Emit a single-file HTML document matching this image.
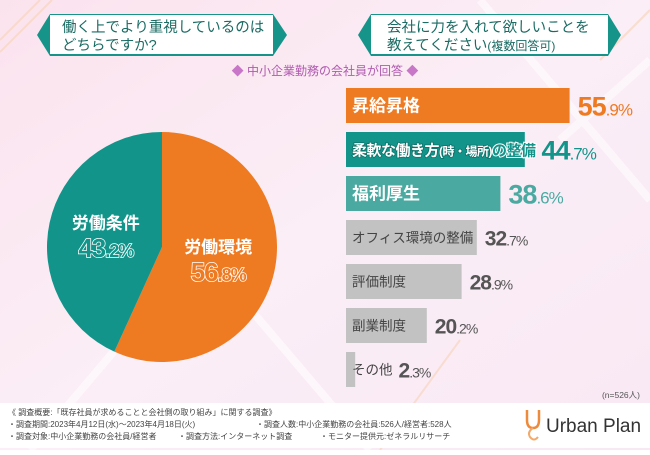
<!DOCTYPE html>
<html><head><meta charset="utf-8"><style>
body{margin:0;width:650px;height:450px;overflow:hidden;font-family:"Liberation Sans","Noto Sans CJK JP",sans-serif}
svg text{font-family:"Liberation Sans","Noto Sans CJK JP",sans-serif}
</style></head><body>
<svg id="c" width="650" height="450" viewBox="0 0 650 450">
<defs>
<linearGradient id="bg" x1="0" y1="0" x2="1" y2="1">
<stop offset="0" stop-color="#fbe3ee"/><stop offset="0.5" stop-color="#fbeef6"/><stop offset="1" stop-color="#f8e8f4"/>
</linearGradient>
</defs>
<rect width="650" height="450" fill="url(#bg)"/>
<g opacity="0.5" stroke="#fff" stroke-width="8" fill="none">
<path d="M30 450 L200 250 L370 450"/><path d="M480 0 L650 200"/><path d="M560 140 L650 60"/>
</g>
<g stroke="#f8d3b8" stroke-width="2" opacity="0.6">
<path d="M0 40 L40 0"/><path d="M0 52 L52 0"/><path d="M610 50 L650 10"/><path d="M600 60 L650 10"/><path d="M380 450 L460 340"/>
</g>
<g>
<polygon points="37,35 50,14 273,14 287,35 273,56 50,56" fill="#16948a"/>
<rect x="50" y="15" width="223" height="39" fill="#fff"/>
<text x="62" y="32" font-size="14.5" fill="#1a6b63">働く上でより重視しているのは</text>
<text x="62" y="50" font-size="14.5" fill="#1a6b63">どちらですか?</text>
</g>
<g>
<polygon points="358,35 371,14 608,14 621,35 608,56 371,56" fill="#16948a"/>
<rect x="371" y="15" width="237" height="39" fill="#fff"/>
<text x="387" y="32" font-size="14.5" fill="#1a6b63">会社に力を入れて欲しいことを</text>
<text x="387" y="50" font-size="14.5" fill="#1a6b63">教えてください<tspan font-size="12">(複数回答可)</tspan></text>
</g>
<text x="325" y="75" font-size="12" fill="#b05ab0" text-anchor="middle"><tspan fill="#c876c8">◆</tspan> 中小企業勤務の会社員が回答 <tspan fill="#c876c8">◆</tspan></text>
<g id="pie"></g>
<g id="bars"></g>
<text x="640" y="398" font-size="8.5" fill="#555" text-anchor="end">(n=526人)</text>
<rect x="0" y="403" width="650" height="45" fill="#fff"/>
<g font-size="8" fill="#444">
<text x="8" y="415">《 調査概要:「既存社員が求めることと会社側の取り組み」に関する調査》</text>
<text x="8" y="427">・調査期間:2023年4月12日(水)〜2023年4月18日(火)</text>
<text x="256" y="427">・調査人数:中小企業勤務の会社員:526人/経営者:528人</text>
<text x="8" y="439">・調査対象:中小企業勤務の会社員/経営者</text>
<text x="178" y="439">・調査方法:インターネット調査</text>
<text x="320" y="439">・モニター提供元:ゼネラルリサーチ</text>
</g>
<g>
<path d="M527 410 L527 420 Q527 428 533 428 Q539 428 539 420 L539 410" stroke="#ee8a3c" stroke-width="2.5" fill="none"/>
<path d="M533 428 Q527 432 530 437 Q534 442 538 437" stroke="#f4a96a" stroke-width="2" fill="none"/>
<text x="546" y="432" font-size="19" fill="#333">Urban Plan</text>
</g>
</svg>
<script>
const pieLabels=["労働環境","労働条件"];
const pieValues=[56.8,43.2];
const barLabels=["昇給昇格","柔軟な働き方(時・場所)の整備","福利厚生","オフィス環境の整備","評価制度","副業制度","その他"];
const barValues=[55.9,44.7,38.6,32.7,28.9,20.2,2.3];
const NS="http://www.w3.org/2000/svg";
function mk(t,a,p){const e=document.createElementNS(NS,t);for(const k in a)e.setAttribute(k,a[k]);p.appendChild(e);return e;}
const pie=document.getElementById('pie');
const cx=162,cy=247,r=115;const pieCol=["#ee7a22","#12948a"];
let tot=pieValues.reduce((a,b)=>a+b,0),ang=0;
pieValues.forEach((v,i)=>{
  const a0=ang,a1=ang+v/tot*2*Math.PI;ang=a1;
  const x0=cx+r*Math.sin(a0),y0=cy-r*Math.cos(a0),x1=cx+r*Math.sin(a1),y1=cy-r*Math.cos(a1);
  const p=mk('path',{d:`M${cx},${cy} L${x0},${y0} A${r},${r} 0 ${a1-a0>Math.PI?1:0} 1 ${x1},${y1} Z`,fill:pieCol[i]},pie);
  
  
  const m=(a0+a1)/2,lr=r*0.5,lx=cx+lr*Math.sin(m),ly=cy-lr*Math.cos(m);
  const t=mk('text',{x:lx,y:ly-6,'font-size':17,'font-weight':'bold',fill:'#fff','text-anchor':'middle'},pie);
  t.textContent=pieLabels[i];
  
  
  const s=String(v).split('.');
  const t2=mk('text',{x:lx,y:ly+22,'font-size':26,'font-weight':'bold',fill:pieCol[i],stroke:'#fff','stroke-width':1.5,'paint-order':'stroke','text-anchor':'middle','letter-spacing':'-1'},pie);
  t2.innerHTML=s[0]+'<tspan font-size="18">.'+s[1]+'%</tspan>';
  
  
});
const bars=document.getElementById('bars');
const x0=346,scale=4.0,top0=88,step=44,bh=35;
barValues.forEach((v,i)=>{
  const y=top0+i*step;
  const fill=i==0?'#ee7a22':i==1?'#12948a':i==2?'#4aaaa2':'#c2c2c2';
  const vc=i==0?'#ee7a22':i==1?'#12948a':i==2?'#4aaaa2':'#555';
  const w=v*scale;
  const b=mk('rect',{x:x0,y:y,width:w,height:bh,fill:fill},bars);
  
  
  const big=i<3;
  const lt=mk('text',{x:x0+6,y:y+bh/2+(big?6:5),'font-size':big?17:13.5,'font-weight':big?'bold':'normal',fill:big?'#fff':'#444'},bars);
  lt.textContent=barLabels[i];
  if(i==1){
    lt.setAttribute('font-size',15);
    lt.setAttribute('letter-spacing','-0.5');
    lt.innerHTML='<tspan stroke="#0d6f67" stroke-width="1.5" paint-order="stroke">柔軟な働き方<tspan font-size="12">(時・場所)</tspan></tspan><tspan fill="#12948a" stroke="#fff" stroke-width="2" paint-order="stroke">の整備</tspan>';
  }
  
  
  const tw=lt.getComputedTextLength();
  const vx=Math.max(x0+w,x0+6+tw)+(x0+w>x0+6+tw?8:6);
  const s=String(v).split('.');
  const vt=mk('text',{x:vx,y:y+bh/2+(big?10:8),'font-size':big?27:21,'font-weight':'bold',fill:vc,'letter-spacing':'-1'},bars);
  vt.innerHTML=s[0]+'<tspan font-size="'+(big?17:14)+'" font-weight="normal">.'+s[1]+'%</tspan>';
  
  
});
</script>
</body></html>
